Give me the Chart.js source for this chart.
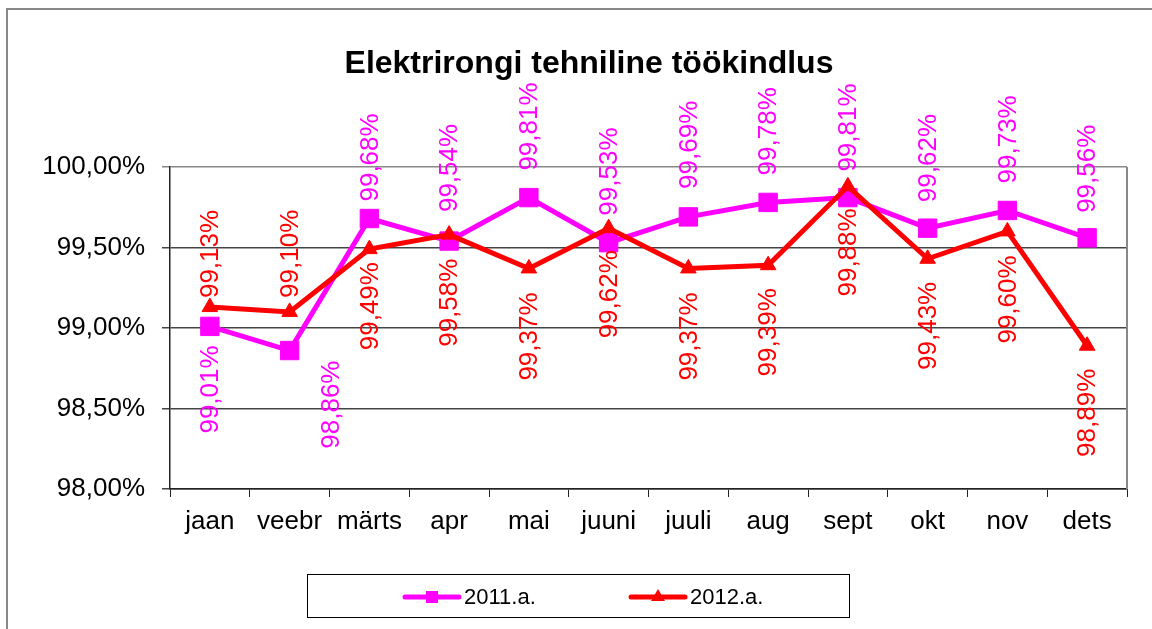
<!DOCTYPE html>
<html>
<head>
  <meta charset="utf-8">
  <title>Elektrirongi tehniline töökindlus</title>
  <script src="https://cdn.jsdelivr.net/npm/chart.js@4.4.1/dist/chart.umd.min.js"></script>
  <style>
    body { margin: 0; background: #fff; }
    #wrap { width: 1152px; height: 629px; position: relative; }
  </style>
</head>
<body>
  <div id="wrap">
    <canvas id="reliabilityChart" width="1152" height="629"></canvas>
  </div>

  <script>
    // data
    const months = ['jaan', 'veebr', 'märts', 'apr', 'mai', 'juuni', 'juuli', 'aug', 'sept', 'okt', 'nov', 'dets'];
    const values2011 = [99.01, 98.86, 99.68, 99.54, 99.81, 99.53, 99.69, 99.78, 99.81, 99.62, 99.73, 99.56];
    const values2012 = [99.13, 99.10, 99.49, 99.58, 99.37, 99.62, 99.37, 99.39, 99.88, 99.43, 99.60, 98.89];
    const yTicks = [98, 98.5, 99, 99.5, 100];

    // label placement: gap from point (positive = above, negative = below), sideways shift
    const labelGap2011 = [-19, -10, 17, 29, 27, 27, 28, 27, 26, 26, 27, 25];
    const labelShift2011 = [0, 41, 0, 0, 0, 0, 0, 0, 0, 0, 0, 0];
    const labelGap2012 = [9, 14, -13, -24, -24, -22, -24, -23, -22, -23, -24, -23];
    const labelShift2012 = [0, 0, 0, 0, 0, 0, 0, 0, 0, 0, 0, 0];

    const FONT = '"Liberation Sans", Arial, sans-serif';
    const fmt = v => v.toFixed(2).replace('.', ',') + '%';

    const pointLabels = {
      id: 'pointLabels',
      afterDatasetsDraw(chart) {
        const ctx = chart.ctx;
        chart.data.datasets.forEach((ds, i) => {
          const meta = chart.getDatasetMeta(i);
          meta.data.forEach((pt, j) => {
            const gap = ds.labelGap[j];
            ctx.save();
            ctx.font = '26px ' + FONT;
            ctx.fillStyle = ds.borderColor;
            ctx.textBaseline = 'middle';
            ctx.translate(pt.x + 1 + ds.labelShift[j], pt.y - gap);
            ctx.rotate(-Math.PI / 2);
            ctx.textAlign = gap > 0 ? 'left' : 'right';
            ctx.fillText(fmt(ds.data[j]), 0, 0);
            ctx.restore();
          });
        });
      }
    };

    const frame = {
      id: 'frame',
      beforeDraw(chart) {
        const ctx = chart.ctx;
        ctx.save();
        ctx.fillStyle = '#fff';
        ctx.fillRect(0, 0, chart.width, chart.height);
        ctx.strokeStyle = '#888';
        ctx.lineWidth = 2;
        ctx.strokeRect(7, 9, 1300, 800);
        ctx.restore();
      },
      beforeDatasetsDraw(chart) {
        const a = chart.chartArea;
        const ctx = chart.ctx;
        ctx.save();
        ctx.strokeStyle = '#888';
        ctx.lineWidth = 2;
        ctx.beginPath();
        ctx.moveTo(a.right, a.top);
        ctx.lineTo(a.right, a.bottom);
        ctx.stroke();
        ctx.restore();
      },
      afterDraw(chart) {
        const ctx = chart.ctx;
        ctx.save();
        // title
        ctx.font = 'bold 32px ' + FONT;
        ctx.fillStyle = '#000';
        ctx.textAlign = 'center';
        ctx.textBaseline = 'middle';
        ctx.fillText('Elektrirongi tehniline töökindlus', 589, 64);

        // legend
        ctx.strokeStyle = '#000';
        ctx.lineWidth = 1;
        ctx.strokeRect(307.5, 574.5, 542, 43);
        const items = [{ ds: chart.data.datasets[0], x: 405 }, { ds: chart.data.datasets[1], x: 631 }];
        items.forEach(it => {
          const y = 597;
          ctx.strokeStyle = it.ds.borderColor;
          ctx.fillStyle = it.ds.borderColor;
          ctx.lineWidth = 5;
          ctx.lineCap = 'round';
          ctx.beginPath();
          ctx.moveTo(it.x, y);
          ctx.lineTo(it.x + 54, y);
          ctx.stroke();
          const cx = it.x + 27;
          if (it.ds.pointStyle === 'rect') {
            ctx.fillRect(cx - 6, y - 6, 12, 12);
          } else {
            ctx.beginPath();
            ctx.moveTo(cx, y - 8);
            ctx.lineTo(cx + 7, y + 4);
            ctx.lineTo(cx - 7, y + 4);
            ctx.closePath();
            ctx.fill();
          }
          ctx.font = '22px ' + FONT;
          ctx.fillStyle = '#000';
          ctx.textAlign = 'left';
          ctx.fillText(it.ds.label, it.x + 59, y + 1);
        });
        ctx.restore();
      }
    };

    new Chart(document.getElementById('reliabilityChart'), {
      type: 'line',
      data: {
        labels: months,
        datasets: [{
          label: '2011.a.',
          data: values2011,
          borderColor: '#FF00FF',
          backgroundColor: '#FF00FF',
          borderWidth: 5,
          pointStyle: 'rect',
          pointRadius: 13,
          pointBorderWidth: 1,
          labelGap: labelGap2011,
          labelShift: labelShift2011,
          order: 1
        }, {
          label: '2012.a.',
          data: values2012,
          borderColor: '#FF0000',
          backgroundColor: '#FF0000',
          borderWidth: 5,
          pointStyle: 'triangle',
          pointRadius: 9,
          pointBorderWidth: 1,
          labelGap: labelGap2012,
          labelShift: labelShift2012,
          order: 0
        }]
      },
      plugins: [frame, pointLabels],
      options: {
        responsive: false,
        animation: false,
        layout: { padding: { top: 167, right: 25, left: 0, bottom: 0 } },
        plugins: {
          legend: { display: false },
          title: { display: false },
          tooltip: { enabled: false }
        },
        scales: {
          x: {
            offset: true,
            grid: { offset: true, drawOnChartArea: false, tickLength: 8, color: '#222', lineWidth: 1 },
            border: { color: '#222', width: 1.5 },
            ticks: { font: { size: 26, family: FONT }, color: '#000', padding: 9, maxRotation: 0 },
            afterFit: s => { s.height = 140; }
          },
          y: {
            min: 98,
            max: 100,
            afterBuildTicks: s => { s.ticks = yTicks.map(v => ({ value: v })); },
            grid: {
              color: c => (c.tick && c.tick.value === 100 ? '#888' : '#444'),
              lineWidth: 1.5,
              tickLength: 8
            },
            border: { color: '#222', width: 1.5 },
            ticks: { font: { size: 26, family: FONT }, color: '#000', padding: 17, callback: v => fmt(v) },
            afterFit: s => { s.width = 170; }
          }
        }
      }
    });
  </script>
</body>
</html>
